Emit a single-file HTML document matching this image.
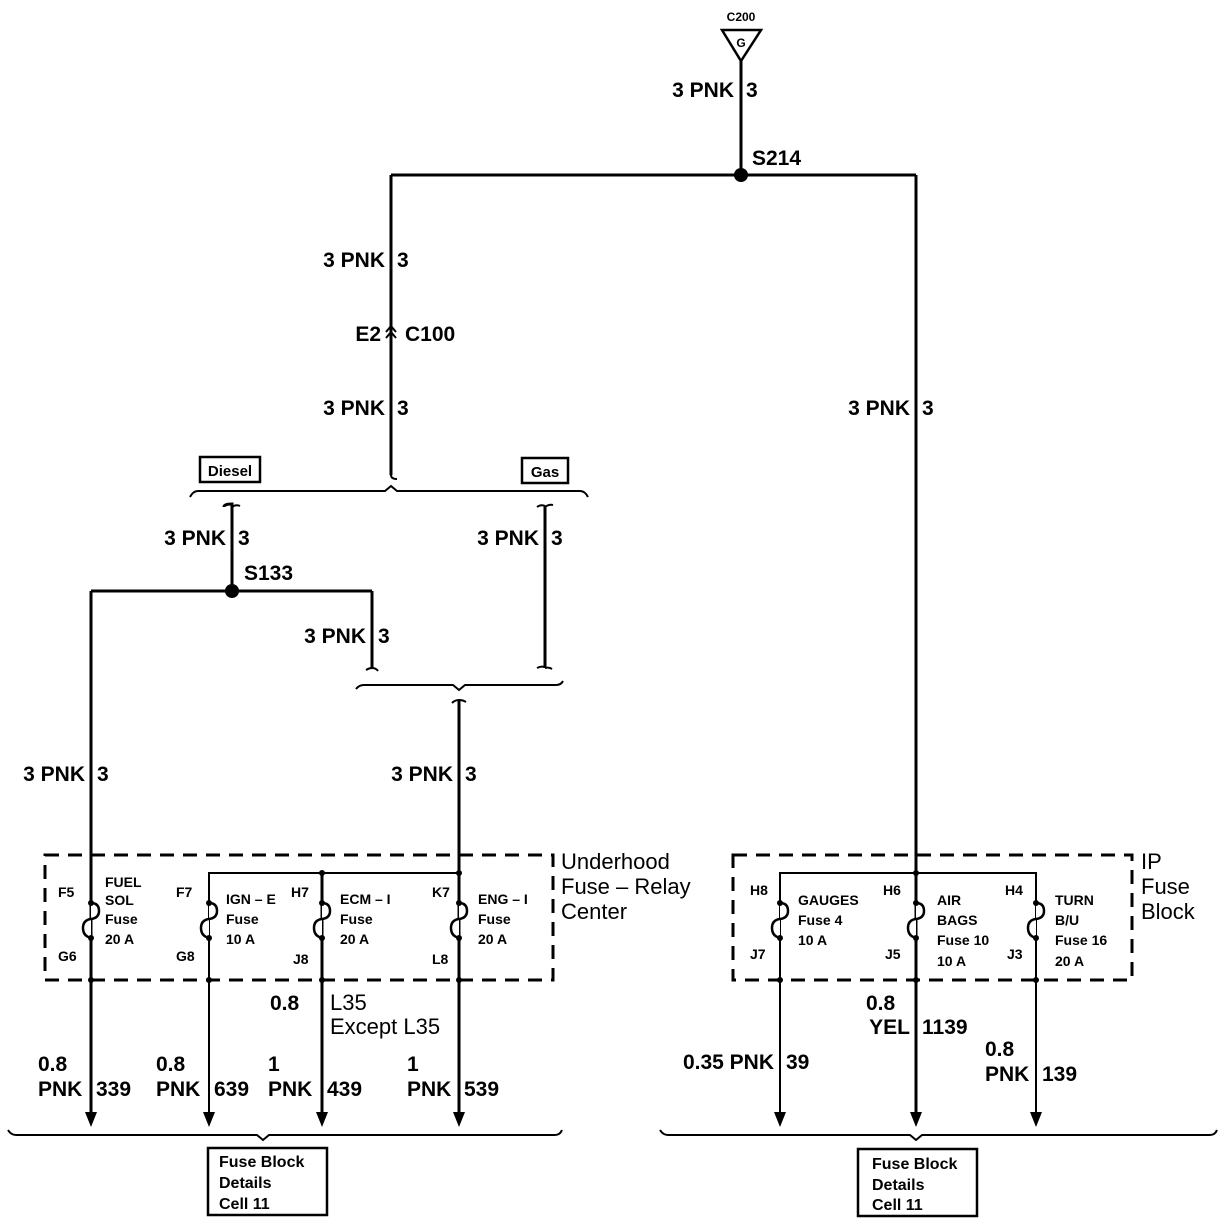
<!DOCTYPE html>
<html><head><meta charset="utf-8"><style>
html,body{margin:0;padding:0;background:#fff;}
svg{display:block;}
text{font-family:"Liberation Sans",Arial,sans-serif;font-weight:bold;fill:#000;}
.l{font-size:21px;}
.s{font-size:14px;}
.m{font-size:15px;}
.n{font-size:22px;font-weight:normal;}
</style></head><body>
<svg width="1222" height="1232" viewBox="0 0 1222 1232" xmlns="http://www.w3.org/2000/svg">
<g stroke="#000" fill="none" stroke-width="3">
<polygon points="722,30 761,30 741,61" stroke-width="2.5"/>
<line x1="741" y1="61" x2="741" y2="175"/>
<line x1="391" y1="175" x2="916" y2="175"/>
<line x1="391" y1="175" x2="391" y2="475"/>
<line x1="916" y1="175" x2="916" y2="1115"/>
<path d="M391,475 q0,4 6,4" stroke-width="2"/>
<path d="M190,497 q3,-6 8,-6 L385,491 l6,-5 l6,5 L580,491 q5,0 8,6" stroke-width="2"/>
<path d="M224,507 q0,-3 8,-3 L232,590" />
<path d="M232,507 q4,-3 8,-1" stroke-width="2"/>
<line x1="91" y1="591" x2="372" y2="591"/>
<line x1="372" y1="591" x2="372" y2="668"/>
<path d="M372,668 q-3,0 -6,2 M372,668 q4,0 6,3" stroke-width="2"/>
<line x1="545" y1="506" x2="545" y2="668"/>
<path d="M537,507 q4,-3 8,-1 M545,507 q4,-3 8,-2 M537,668 q4,-2 8,-1 M545,668 q4,-1 7,1" stroke-width="2"/>
<path d="M356,689 q3,-4 8,-4 L453,685 l6,5 l6,-5 L556,685 q5,0 7,-4" stroke-width="2"/>
<path d="M452,703 q3,-3 7,-3 q4,0 7,2" stroke-width="2"/>
<line x1="459" y1="700" x2="459" y2="1115"/>
<line x1="91" y1="591" x2="91" y2="1115"/>
<rect x="45" y="855" width="508" height="125" stroke-dasharray="14,9" stroke-width="3"/>
<polyline points="209,1115 209,873 459,873" stroke-width="2"/>
<line x1="322" y1="873" x2="322" y2="1115"/>
<rect x="733" y="855" width="399" height="125" stroke-dasharray="14,9" stroke-width="3"/>
<polyline points="780,1115 780,873 1036,873 1036,1115" stroke-width="2"/>
<path d="M8,1130 q3,5 8,5 L257,1135 l6,5 l6,-5 L555,1135 q5,0 7,-5" stroke-width="2"/>
<path d="M660,1130 q3,5 8,5 L910,1135 l6,5 l6,-5 L1210,1135 q5,0 7,-5" stroke-width="2"/>
<rect x="208" y="1148" width="119" height="67" stroke-width="2.5"/>
<rect x="858" y="1149" width="119" height="67" stroke-width="2.5"/>
<rect x="200" y="457" width="60" height="25" stroke-width="2.5"/>
<rect x="522" y="458" width="46" height="25" stroke-width="2.5"/>
<path d="M386,332 l5,-6 l5,6 M386,338 l5,-6 l5,6" stroke-width="2"/>
</g>
<g stroke="#000" fill="#fff" stroke-width="2.5">
<path d="M91,903 q8,0 8,8 q0,7 -8,8 q-8,1 -8,9 q0,8 8,10"/>
<path d="M209,903 q8,0 8,8 q0,7 -8,8 q-8,1 -8,9 q0,8 8,10"/>
<path d="M322,903 q8,0 8,8 q0,7 -8,8 q-8,1 -8,9 q0,8 8,10"/>
<path d="M459,903 q8,0 8,8 q0,7 -8,8 q-8,1 -8,9 q0,8 8,10"/>
<path d="M780,903 q8,0 8,8 q0,7 -8,8 q-8,1 -8,9 q0,8 8,10"/>
<path d="M916,903 q8,0 8,8 q0,7 -8,8 q-8,1 -8,9 q0,8 8,10"/>
<path d="M1036,903 q8,0 8,8 q0,7 -8,8 q-8,1 -8,9 q0,8 8,10"/>
</g>
<g fill="#000">
<circle cx="741" cy="175" r="7"/>
<circle cx="232" cy="591" r="7"/>
<circle cx="322" cy="873" r="3"/><circle cx="459" cy="873" r="3"/><circle cx="916" cy="873" r="3"/>
<circle cx="91" cy="903" r="3"/><circle cx="91" cy="938" r="3"/>
<circle cx="209" cy="903" r="3"/><circle cx="209" cy="938" r="3"/>
<circle cx="322" cy="903" r="3"/><circle cx="322" cy="938" r="3"/>
<circle cx="459" cy="903" r="3"/><circle cx="459" cy="938" r="3"/>
<circle cx="780" cy="903" r="3"/><circle cx="780" cy="938" r="3"/>
<circle cx="916" cy="903" r="3"/><circle cx="916" cy="938" r="3"/>
<circle cx="1036" cy="903" r="3"/><circle cx="1036" cy="938" r="3"/>
<circle cx="91" cy="980" r="3"/><circle cx="209" cy="980" r="3"/><circle cx="322" cy="980" r="3"/><circle cx="459" cy="980" r="3"/>
<circle cx="780" cy="980" r="3"/><circle cx="916" cy="980" r="3"/><circle cx="1036" cy="980" r="3"/>
<polygon points="85,1112 97,1112 91,1127"/>
<polygon points="203,1112 215,1112 209,1127"/>
<polygon points="316,1112 328,1112 322,1127"/>
<polygon points="453,1112 465,1112 459,1127"/>
<polygon points="774,1112 786,1112 780,1127"/>
<polygon points="910,1112 922,1112 916,1127"/>
<polygon points="1030,1112 1042,1112 1036,1127"/>
</g>
<text x="741" y="21" text-anchor="middle" style="font-size:12px">C200</text>
<text x="741" y="47" text-anchor="middle" style="font-size:12px">G</text>
<text x="734" y="97" class="l" text-anchor="end">3 PNK</text><text x="746" y="97" class="l">3</text>
<text x="752" y="165" class="l">S214</text>
<text x="385" y="267" class="l" text-anchor="end">3 PNK</text><text x="397" y="267" class="l">3</text>
<text x="381" y="341" class="l" text-anchor="end">E2</text><text x="405" y="341" class="l">C100</text>
<text x="385" y="415" class="l" text-anchor="end">3 PNK</text><text x="397" y="415" class="l">3</text>
<text x="910" y="415" class="l" text-anchor="end">3 PNK</text><text x="922" y="415" class="l">3</text>
<text x="230" y="476" class="m" text-anchor="middle">Diesel</text>
<text x="545" y="477" class="m" text-anchor="middle">Gas</text>
<text x="226" y="545" class="l" text-anchor="end">3 PNK</text><text x="238" y="545" class="l">3</text>
<text x="539" y="545" class="l" text-anchor="end">3 PNK</text><text x="551" y="545" class="l">3</text>
<text x="244" y="580" class="l">S133</text>
<text x="366" y="643" class="l" text-anchor="end">3 PNK</text><text x="378" y="643" class="l">3</text>
<text x="85" y="781" class="l" text-anchor="end">3 PNK</text><text x="97" y="781" class="l">3</text>
<text x="453" y="781" class="l" text-anchor="end">3 PNK</text><text x="465" y="781" class="l">3</text>
<text x="561" y="869" class="n">Underhood</text>
<text x="561" y="894" class="n">Fuse – Relay</text>
<text x="561" y="919" class="n">Center</text>
<text x="1141" y="869" class="n">IP</text>
<text x="1141" y="894" class="n">Fuse</text>
<text x="1141" y="919" class="n">Block</text>
<g style="font-size:14px">
<text x="58" y="897">F5</text><text x="58" y="961">G6</text>
<text x="105" y="887">FUEL</text><text x="105" y="905">SOL</text><text x="105" y="924">Fuse</text><text x="105" y="944">20 A</text>
<text x="176" y="897">F7</text><text x="176" y="961">G8</text>
<text x="226" y="904">IGN – E</text><text x="226" y="924">Fuse</text><text x="226" y="944">10 A</text>
<text x="291" y="897">H7</text><text x="293" y="964">J8</text>
<text x="340" y="904">ECM – I</text><text x="340" y="924">Fuse</text><text x="340" y="944">20 A</text>
<text x="432" y="897">K7</text><text x="432" y="964">L8</text>
<text x="478" y="904">ENG – I</text><text x="478" y="924">Fuse</text><text x="478" y="944">20 A</text>
<text x="750" y="895">H8</text><text x="750" y="959">J7</text>
<text x="798" y="905">GAUGES</text><text x="798" y="925">Fuse 4</text><text x="798" y="945">10 A</text>
<text x="883" y="895">H6</text><text x="885" y="959">J5</text>
<text x="937" y="905">AIR</text><text x="937" y="925">BAGS</text><text x="937" y="945">Fuse 10</text><text x="937" y="966">10 A</text>
<text x="1005" y="895">H4</text><text x="1007" y="959">J3</text>
<text x="1055" y="905">TURN</text><text x="1055" y="925">B/U</text><text x="1055" y="945">Fuse 16</text><text x="1055" y="966">20 A</text>
</g>
<text x="270" y="1010" class="l">0.8</text>
<text x="330" y="1010" class="n">L35</text>
<text x="330" y="1034" class="n">Except L35</text>
<text x="38" y="1071" class="l">0.8</text><text x="38" y="1096" class="l">PNK</text><text x="96" y="1096" class="l">339</text>
<text x="156" y="1071" class="l">0.8</text><text x="156" y="1096" class="l">PNK</text><text x="214" y="1096" class="l">639</text>
<text x="268" y="1071" class="l">1</text><text x="268" y="1096" class="l">PNK</text><text x="327" y="1096" class="l">439</text>
<text x="407" y="1071" class="l">1</text><text x="407" y="1096" class="l">PNK</text><text x="464" y="1096" class="l">539</text>
<text x="774" y="1069" class="l" text-anchor="end">0.35 PNK</text><text x="786" y="1069" class="l">39</text>
<text x="866" y="1010" class="l">0.8</text>
<text x="910" y="1034" class="l" text-anchor="end">YEL</text><text x="922" y="1034" class="l">1139</text>
<text x="985" y="1056" class="l">0.8</text><text x="985" y="1081" class="l">PNK</text><text x="1042" y="1081" class="l">139</text>
<g style="font-size:16px">
<text x="219" y="1167">Fuse Block</text><text x="219" y="1188">Details</text><text x="219" y="1209">Cell 11</text>
<text x="872" y="1169">Fuse Block</text><text x="872" y="1190">Details</text><text x="872" y="1210">Cell 11</text>
</g>
</svg>
</body></html>
